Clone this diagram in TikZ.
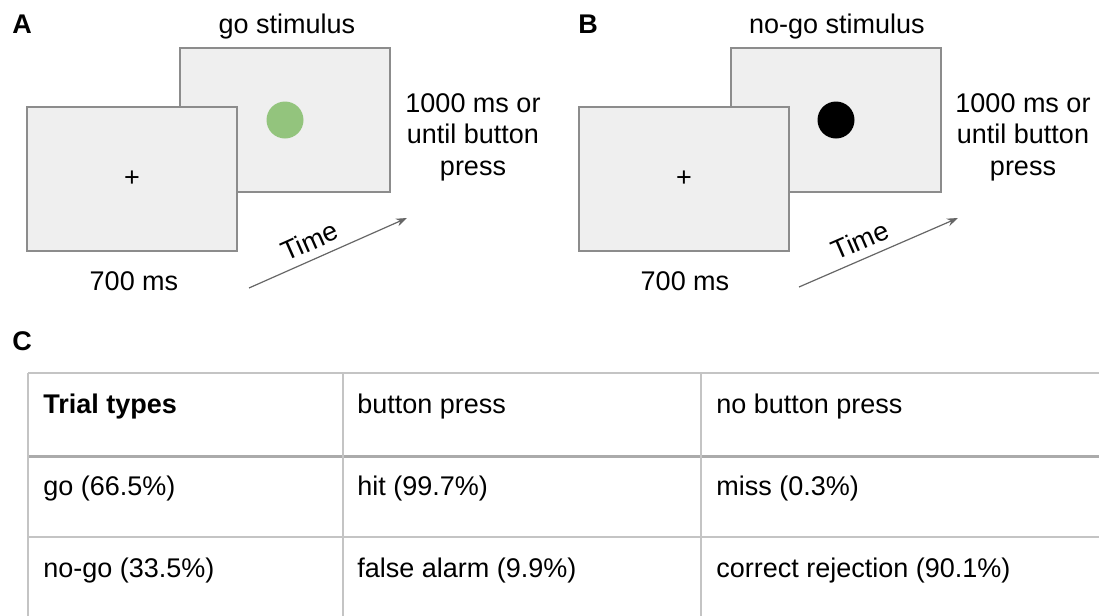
\documentclass[tikz,border=0pt]{standalone}
\usepackage{fontspec}
\setmainfont{Liberation Sans}
\usetikzlibrary{positioning,arrows.meta}

\definecolor{screengray}{HTML}{EFEFEF}
\definecolor{framegray}{HTML}{8C8C8C}
\definecolor{rulegray}{HTML}{C4C4C4}
\definecolor{headgray}{HTML}{ABABAB}
\definecolor{godot}{HTML}{93C47D}
\definecolor{timegray}{HTML}{666666}

\begin{document}
\begin{tikzpicture}[x=0.5pt, y=-0.5pt,
  every node/.style={font=\fontsize{13.5}{15.75}\selectfont},
  screen/.style={draw=framegray, line width=0.75pt, fill=screengray, minimum width=105pt, minimum height=72pt, inner sep=0pt},
  dot/.style={circle, minimum size=18.5pt, inner sep=0pt},
  panel/.style={anchor=base west, inner sep=0pt, font=\fontsize{13.5}{15.75}\selectfont\bfseries},
  caption/.style={anchor=base, inner sep=0pt},
  timeline/.style={draw=timegray, line width=0.6pt, -{Stealth[length=5.5pt,width=4pt]}},
  cell/.style={anchor=base west, inner sep=0pt},
  rule/.style={draw=rulegray, line width=1pt}]

\useasboundingbox (0,0) rectangle (1099,616);

% Panel A
\node[panel] (label_a) at (12,33) {A};
\node[screen] (go_screen) at (285,120) {};
\node[dot, fill=godot] (go_dot) at (go_screen) {};
\node[screen] (fix_a) at (132,179) {+};
\node[caption] (go_title) at (287,33) {go stimulus};
\node[caption, align=center, anchor=north] (go_time) at (473,93) {1000 ms or\\until button\\press};
\node[caption] (fix_a_time) at (134,290) {700 ms};
\coordinate (time_a0) at (249,288);
\coordinate (time_a1) at (407,218);
\draw[timeline] (time_a0) -- node[sloped, above, pos=0.43, inner sep=4pt] (time_a) {Time} (time_a1);

% Panel B
\node[panel] (label_b) at (578,33) {B};
\node[screen] (nogo_screen) at (836,120) {};
\node[dot, fill=black] (nogo_dot) at (nogo_screen) {};
\node[screen] (fix_b) at (684,179) {+};
\node[caption] (nogo_title) at (837,33) {no-go stimulus};
\node[caption, align=center, anchor=north] (nogo_time) at (1023,93) {1000 ms or\\until button\\press};
\node[caption] (fix_b_time) at (685,290) {700 ms};
\coordinate (time_b0) at (799,287);
\coordinate (time_b1) at (958,218);
\draw[timeline] (time_b0) -- node[sloped, above, pos=0.43, inner sep=4pt] (time_b) {Time} (time_b1);

% Table
\node[panel] (label_c) at (12,350) {C};
\draw[rule] (28,373) -- (1099,373);
\draw[rule, draw=headgray, line width=1.5pt] (28,456) -- (1099,456);
\draw[rule] (28,537) -- (1099,537);
\foreach \x in {28,343,701}
  \draw[rule] (\x,373) -- (\x,616);

\node[cell, font=\fontsize{13.5}{15.75}\selectfont\bfseries] (head_type) at (43,413) {Trial types};
\node[cell] (head_press) at (357,413) {button press};
\node[cell] (head_nopress) at (716,413) {no button press};
\node[cell] (go_row) at (43,495) {go (66.5\%)};
\node[cell] (go_hit) at (357,495) {hit (99.7\%)};
\node[cell] (go_miss) at (716,495) {miss (0.3\%)};
\node[cell] (nogo_row) at (43,577) {no-go (33.5\%)};
\node[cell] (nogo_fa) at (357,577) {false alarm (9.9\%)};
\node[cell] (nogo_cr) at (716,577) {correct rejection (90.1\%)};

\end{tikzpicture}
\end{document}
